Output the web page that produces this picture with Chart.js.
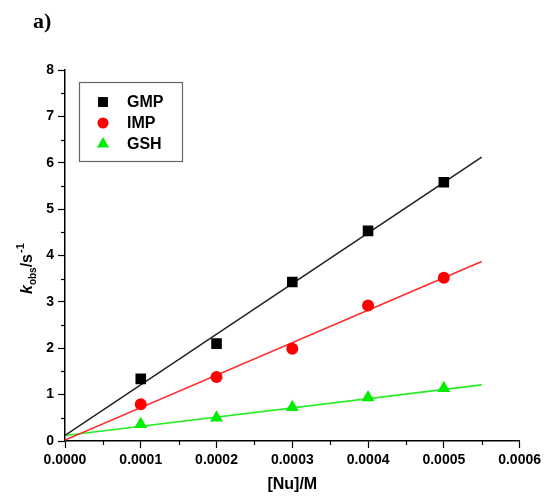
<!DOCTYPE html>
<html>
<head>
<meta charset="utf-8">
<script src="https://cdn.jsdelivr.net/npm/chart.js@4/dist/chart.umd.min.js"></script>
<style>
  html, body { margin: 0; padding: 0; background: #fff; }
  canvas { display: block; }
</style>
</head>
<body>
<canvas id="kobsChart" width="545" height="496"></canvas>
<script>
// concentrations [Nu] / M
const concentrations = [0.0001, 0.0002, 0.0003, 0.0004, 0.0005];
// measured k_obs / s^-1
const gmpValues = [1.34, 2.10, 3.43, 4.53, 5.58];
const impValues = [0.79, 1.38, 1.99, 2.92, 3.52];
const gshValues = [0.36, 0.50, 0.73, 0.94, 1.14];
// fitted straight lines (end points)
const fitX = [0, 0.00055];
const gmpFit = [0.12, 6.12];
const impFit = [0.02, 3.87];
const gshFit = [0.12, 1.21];
// axis ticks
const xTicks = [0, 0.0001, 0.0002, 0.0003, 0.0004, 0.0005, 0.0006];
const yTicks = [0, 1, 2, 3, 4, 5, 6, 7, 8];

const seriesNames = ['GMP', 'IMP', 'GSH'];
const seriesColors = ['#000000', '#ff0000', '#00ee00'];
const lineColors = ['#222222', '#ff2a2a', '#22ee22'];
const markers = ['rect', 'circle', 'triangle'];
const markerSizes = [7.5, 6, 7.5];

const toPoints = (xs, ys) => xs.map((x, i) => ({ x: x, y: ys[i] }));

const allSeries = [gmpValues, impValues, gshValues];
const allFits = [gmpFit, impFit, gshFit];

const datasets = [];
allSeries.forEach((vals, i) => {
    datasets.push({
        label: seriesNames[i],
        data: toPoints(concentrations, vals),
        showLine: false,
        pointStyle: markers[i],
        pointRadius: markerSizes[i],
        pointBackgroundColor: seriesColors[i],
        pointBorderColor: seriesColors[i],
        pointBorderWidth: 0,
        order: 1
    });
});
allFits.forEach((vals, i) => {
    datasets.push({
        label: seriesNames[i] + ' fit',
        data: toPoints(fitX, vals),
        showLine: true,
        borderColor: lineColors[i],
        borderWidth: 1.6,
        pointRadius: 0,
        order: 2
    });
});

function drawMarker(ctx, style, x, y, r, color) {
    ctx.save();
    ctx.fillStyle = color;
    ctx.beginPath();
    if (style === 'rect') {
        const s = r * Math.SQRT1_2;
        ctx.rect(x - s, y - s, 2 * s, 2 * s);
    } else if (style === 'circle') {
        ctx.arc(x, y, r, 0, Math.PI * 2);
    } else {
        ctx.moveTo(x, y - r);
        ctx.lineTo(x + r * 0.866, y + r * 0.5);
        ctx.lineTo(x - r * 0.866, y + r * 0.5);
        ctx.closePath();
    }
    ctx.fill();
    ctx.restore();
}

// minor ticks, titles, legend box
const decorations = {
    id: 'decorations',
    afterDraw(chart) {
        const ctx = chart.ctx;
        const xs = chart.scales.x;
        const ys = chart.scales.y;
        const area = chart.chartArea;
        ctx.save();
        ctx.strokeStyle = '#000';
        ctx.lineWidth = 1.2;
        // minor ticks
        for (let i = 0; i < xTicks.length - 1; i++) {
            const px = Math.round(xs.getPixelForValue((xTicks[i] + xTicks[i + 1]) / 2)) + 0.5;
            ctx.beginPath();
            ctx.moveTo(px, area.bottom);
            ctx.lineTo(px, area.bottom + 4);
            ctx.stroke();
        }
        for (let i = 0; i < yTicks.length - 1; i++) {
            const py = Math.round(ys.getPixelForValue((yTicks[i] + yTicks[i + 1]) / 2)) + 0.5;
            ctx.beginPath();
            ctx.moveTo(area.left, py);
            ctx.lineTo(area.left - 4, py);
            ctx.stroke();
        }

        // panel label
        ctx.fillStyle = '#000';
        ctx.font = 'bold 22px "Liberation Serif", "Times New Roman", serif';
        ctx.textAlign = 'left';
        ctx.textBaseline = 'alphabetic';
        ctx.fillText('a)', 33, 28);

        // x axis title
        ctx.font = 'bold 16px "Liberation Sans", Arial, sans-serif';
        ctx.textAlign = 'center';
        ctx.textBaseline = 'middle';
        ctx.fillText('[Nu]/M', (area.left + area.right) / 2 + 0, 485);

        // y axis title  k_obs/s^-1
        ctx.save();
        ctx.translate(32, 294);
        ctx.rotate(-Math.PI / 2);
        ctx.textAlign = 'left';
        ctx.textBaseline = 'alphabetic';
        let cx = 0;
        ctx.font = 'italic bold 16px "Liberation Sans", Arial, sans-serif';
        ctx.fillText('k', cx, 0);
        cx += ctx.measureText('k').width;
        ctx.font = 'bold 10px "Liberation Sans", Arial, sans-serif';
        ctx.fillText('obs', cx, 4);
        cx += ctx.measureText('obs').width;
        ctx.font = 'bold 16px "Liberation Sans", Arial, sans-serif';
        ctx.fillText('/s', cx, 0);
        cx += ctx.measureText('/s').width;
        ctx.font = 'bold 11px "Liberation Sans", Arial, sans-serif';
        ctx.fillText('-1', cx + 1, -8);
        ctx.restore();

        // legend
        ctx.strokeStyle = '#666';
        ctx.lineWidth = 1.2;
        ctx.strokeRect(79.5, 82.5, 103, 79);
        ctx.font = 'bold 16px "Liberation Sans", Arial, sans-serif';
        ctx.textAlign = 'left';
        ctx.textBaseline = 'middle';
        for (let i = 0; i < 3; i++) {
            const ds = chart.data.datasets[i];
            const ly = 102 + i * 21;
            drawMarker(ctx, ds.pointStyle, 103, ly, markers[i] === 'circle' ? 5.5 : 7, ds.pointBackgroundColor);
            ctx.fillStyle = '#000';
            ctx.fillText(ds.label, 127, ly + 1);
        }
        ctx.restore();
    }
};

const tickFont = { family: '"Liberation Sans", Arial, sans-serif', size: 14, weight: 'bold' };

new Chart(document.getElementById('kobsChart'), {
    type: 'scatter',
    data: { datasets: datasets },
    options: {
        responsive: false,
        devicePixelRatio: 1,
        animation: false,
        layout: { padding: { top: 70, right: 20, left: 0, bottom: 0 } },
        plugins: {
            legend: { display: false },
            tooltip: { enabled: false }
        },
        scales: {
            x: {
                type: 'linear',
                min: 0,
                max: 0.0006,
                afterBuildTicks(scale) {
                    scale.ticks = xTicks.map(v => ({ value: v }));
                },
                afterFit(scale) { scale.height = 55; },
                ticks: {
                    color: '#000',
                    font: tickFont,
                    padding: 4,
                    maxRotation: 0,
                    callback: v => Number(v).toFixed(4)
                },
                grid: { drawOnChartArea: false, tickLength: 7, tickColor: '#000', tickWidth: 1.2 },
                border: { color: '#000', width: 1.5 }
            },
            y: {
                type: 'linear',
                min: 0,
                max: 8,
                afterBuildTicks(scale) {
                    scale.ticks = yTicks.map(v => ({ value: v }));
                },
                afterFit(scale) { scale.width = 65; },
                ticks: {
                    color: '#000',
                    font: tickFont,
                    padding: 4,
                    callback: v => String(v)
                },
                grid: { drawOnChartArea: false, tickLength: 7, tickColor: '#000', tickWidth: 1.2 },
                border: { color: '#000', width: 1.5 }
            }
        }
    },
    plugins: [decorations]
});
</script>
</body>
</html>
